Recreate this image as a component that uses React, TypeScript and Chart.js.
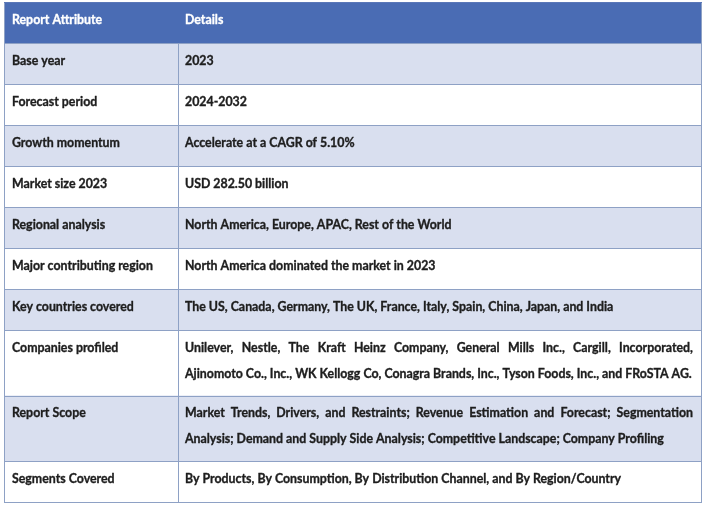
import { useEffect, useRef } from 'react';
import { Chart, registerables } from 'chart.js';

Chart.register(...registerables);

// ---- Data ----
const headerLabels = ['Report Attribute', 'Details'];
const attributes = [
  'Base year',
  'Forecast period',
  'Growth momentum',
  'Market size 2023',
  'Regional analysis',
  'Major contributing region',
  'Key countries covered',
  'Companies profiled',
  'Report Scope',
  'Segments Covered',
];
const details: string[][] = [
  ['2023'],
  ['2024-2032'],
  ['Accelerate at a CAGR of 5.10%'],
  ['USD 282.50 billion'],
  ['North America, Europe, APAC, Rest of the World'],
  ['North America dominated the market in 2023'],
  ['The US, Canada, Germany, The UK, France, Italy, Spain, China, Japan, and India'],
  [
    'Unilever, Nestle, The Kraft Heinz Company, General Mills Inc., Cargill, Incorporated,',
    'Ajinomoto Co., Inc., WK Kellogg Co, Conagra Brands, Inc., Tyson Foods, Inc., and FRoSTA AG.',
  ],
  [
    'Market Trends, Drivers, and Restraints; Revenue Estimation and Forecast; Segmentation',
    'Analysis; Demand and Supply Side Analysis; Competitive Landscape; Company Profiling',
  ],
  ['By Products, By Consumption, By Distribution Channel, and By Region/Country'],
];

// ---- Styles ----
const W = 706;
const H = 506;
const TABLE_W = 698;
const COL_SPLIT = 174; // in table units (x scale)
const ROW_H = 41;
const EXTRA_LINE_H = 24.5;
const LINE_GAP = 26;
const HEADER_BG = '#4A6CB4';
const BAND_BG = '#D9DFEF';
const WHITE_BG = '#FFFFFF';
const BORDER = '#8EA1C5';
const TEXT = '#1E1E1E';
const FONT = 'bold 13px Lato';
const SX = 0.95;

const rowLines = [1, ...details.map((d) => d.length)];
const rowHeights = rowLines.map((n) => ROW_H + EXTRA_LINE_H * (n - 1));
const rowTops: number[] = [];
{
  let acc = 0;
  for (const h of rowHeights) {
    rowTops.push(acc);
    acc += h;
  }
}
const TABLE_H = rowHeights.reduce((a, b) => a + b, 0);

const tablePlugin = {
  id: 'tablePlugin',
  afterDraw(chart: any) {
    const ctx: CanvasRenderingContext2D = chart.ctx;
    const xs = chart.scales.x;
    const ys = chart.scales.y;
    const xL = xs.getPixelForValue(0);
    const xM = xs.getPixelForValue(COL_SPLIT);
    const xR = xs.getPixelForValue(TABLE_W);
    ctx.save();
    rowHeights.forEach((h, i) => {
      const y0 = ys.getPixelForValue(rowTops[i]);
      const y1 = ys.getPixelForValue(rowTops[i] + h);
      ctx.fillStyle = i === 0 ? HEADER_BG : (i - 1) % 2 === 0 ? BAND_BG : WHITE_BG;
      ctx.fillRect(xL, y0, xR - xL, y1 - y0);
    });
    ctx.strokeStyle = BORDER;
    ctx.lineWidth = 1;
    ctx.beginPath();
    const yTop = ys.getPixelForValue(0);
    const yHead = ys.getPixelForValue(rowHeights[0]);
    const yBot = ys.getPixelForValue(TABLE_H);
    for (let i = 1; i <= rowHeights.length; i++) {
      const y = Math.round(ys.getPixelForValue(rowTops[i - 1] + rowHeights[i - 1])) + 0.5;
      ctx.moveTo(xL, y);
      ctx.lineTo(xR, y);
    }
    ctx.moveTo(Math.round(xL) + 0.5, yTop);
    ctx.lineTo(Math.round(xL) + 0.5, yBot);
    ctx.moveTo(Math.round(xR) - 0.5, yTop);
    ctx.lineTo(Math.round(xR) - 0.5, yBot);
    ctx.moveTo(Math.round(xM) + 0.5, yHead);
    ctx.lineTo(Math.round(xM) + 0.5, yBot);
    ctx.stroke();
    ctx.strokeStyle = '#5A77B8';
    ctx.beginPath();
    ctx.moveTo(xL, Math.round(yTop) + 0.5);
    ctx.lineTo(xR, Math.round(yTop) + 0.5);
    ctx.stroke();

    ctx.font = FONT;
    ctx.textBaseline = 'middle';
    ctx.textAlign = 'left';
    ctx.lineJoin = 'round';
    const padL = 8;
    const padR = 9;
    const put = (s: string, x: number, y: number) => {
      ctx.save();
      ctx.translate(x, y);
      ctx.scale(SX, 1);
      ctx.lineWidth = 0.35;
      ctx.strokeStyle = ctx.fillStyle as string;
      ctx.fillText(s, 0, 0);
      ctx.strokeText(s, 0, 0);
      ctx.restore();
    };
    const drawLines = (lines: string[], x0: number, x1: number, yStart: number) => {
      lines.forEach((line, li) => {
        const y = yStart + li * LINE_GAP;
        const justify = lines.length > 1 && li < lines.length - 1;
        if (!justify) {
          put(line, x0, y);
          return;
        }
        const words = line.split(' ');
        const widths = words.map((w) => ctx.measureText(w).width * SX);
        const sum = widths.reduce((a, b) => a + b, 0);
        const gap = (x1 - x0 - sum) / (words.length - 1);
        let x = x0;
        words.forEach((w, wi) => {
          put(w, x, y);
          x += widths[wi] + gap;
        });
      });
    };
    rowHeights.forEach((h, i) => {
      const y0 = ys.getPixelForValue(rowTops[i]);
      const yc = y0 + 17.5;
      ctx.fillStyle = i === 0 ? '#FFFFFF' : TEXT;
      const left = i === 0 ? headerLabels[0] : attributes[i - 1];
      const right = i === 0 ? [headerLabels[1]] : details[i - 1];
      drawLines([left], xL + padL, xM - padR, yc);
      drawLines(right, xM + padL - 1, xR - padR, yc);
    });
    ctx.restore();
  },
};

export default function App() {
  const ref = useRef<HTMLCanvasElement | null>(null);
  useEffect(() => {
    document.body.style.margin = '0';
    const canvas = ref.current;
    if (!canvas) return;
    const chart = new Chart(canvas, {
      type: 'scatter',
      data: { datasets: [] },
      options: {
        animation: false,
        responsive: false,
        maintainAspectRatio: false,
        devicePixelRatio: 1,
        layout: { padding: { left: 4, top: 2, right: 4, bottom: H - 2 - TABLE_H } },
        plugins: { legend: { display: false }, tooltip: { enabled: false } },
        scales: {
          x: { type: 'linear', min: 0, max: TABLE_W, display: false },
          y: { type: 'linear', min: 0, max: TABLE_H, reverse: true, display: false },
        },
      },
      plugins: [tablePlugin],
    });
    return () => chart.destroy();
  }, []);
  return (
    <div style={{ width: W, height: H, background: '#FFFFFF' }}>
      <canvas ref={ref} width={W} height={H} style={{ display: 'block' }} />
    </div>
  );
}
